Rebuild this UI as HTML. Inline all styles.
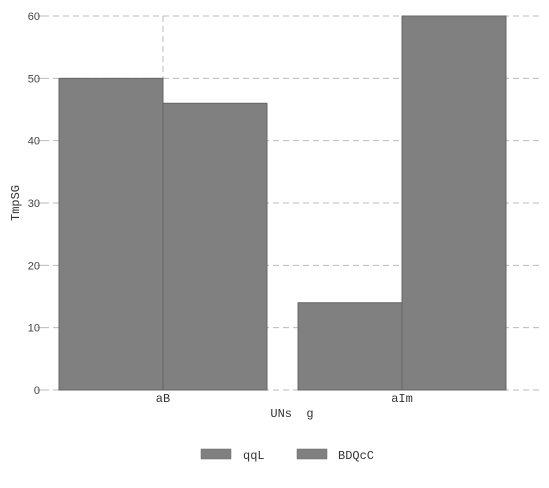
<!DOCTYPE html>
<html><head><meta charset="utf-8"><style>
body{margin:0;background:#fff}
svg{display:block}
.mono{font-family:"Liberation Mono",monospace;font-size:12px;fill:#333}
.tick{font-family:"Liberation Sans",sans-serif;font-size:11px;fill:#444}
</style></head><body>
<svg width="549" height="488">
<g id="grid"></g>
<g id="bars"></g>
<g id="axes"></g>
<text class="mono" transform="translate(19,203) rotate(-90)" text-anchor="middle">TmpSG</text>
<text class="mono" x="292" y="417" text-anchor="middle" xml:space="preserve">UNs  g</text>
<g>
<g><rect x="201" y="449" width="30" height="10" fill="#808080" stroke="#666" stroke-width="0.5"/><text class="mono" x="243" y="459">qqL</text></g>
<g><rect x="297" y="449" width="30" height="10" fill="#808080" stroke="#666" stroke-width="0.5"/><text class="mono" x="338" y="459">BDQcC</text></g>
</g>
</svg>
<script>
const categories=["aB","aIm"];
const seriesNames=["qqL","BDQcC"];
const qqL=[50,14];
const BDQcC=[46,60];
const yTicks=[0,10,20,30,40,50,60];
const NS="http://www.w3.org/2000/svg";
const y0=390,y1=16,yMax=60;
function y(v){return y0-(v/yMax)*(y0-y1);}
const catX0=163,catStep=239;
function x(i){return catX0+i*catStep;}
const bw=104;
function mk(t,a,p){const e=document.createElementNS(NS,t);for(const k in a)e.setAttribute(k,a[k]);p.appendChild(e);return e;}
const grid=document.getElementById('grid'),bars=document.getElementById('bars'),axes=document.getElementById('axes');
yTicks.forEach(v=>{
 if(v>0){const l=mk('line',{x1:43,x2:540,y1:y(v),y2:y(v),stroke:'#bbb','stroke-dasharray':'6,4'},grid);
 
 }
 const t=mk('line',{x1:37,x2:43,y1:y(v),y2:y(v),stroke:'#bbb'},axes);
 
 
 const tx=mk('text',{x:40,y:y(v)+4,'text-anchor':'end',class:'tick'},axes);tx.textContent=v;
 
 
});
mk('line',{x1:43,x2:540,y1:y0,y2:y0,stroke:'#bbb','stroke-dasharray':'6,4'},grid);
categories.forEach((c,i)=>{
 const g=mk('line',{x1:x(i),x2:x(i),y1:y1,y2:y0,stroke:'#bbb','stroke-dasharray':'6,4'},grid);
 
 
 [[qqL,-1],[BDQcC,0]].forEach(([s,o],k)=>{
  const r=mk('rect',{x:x(i)+o*bw,y:y(s[i]),width:bw,height:y0-y(s[i]),fill:'#808080',stroke:'#666','stroke-width':1},bars);
  
  
 });
 const t=mk('text',{x:x(i),y:402,'text-anchor':'middle',class:'mono'},axes);t.textContent=c;
 
 
});
</script>
</body></html>
